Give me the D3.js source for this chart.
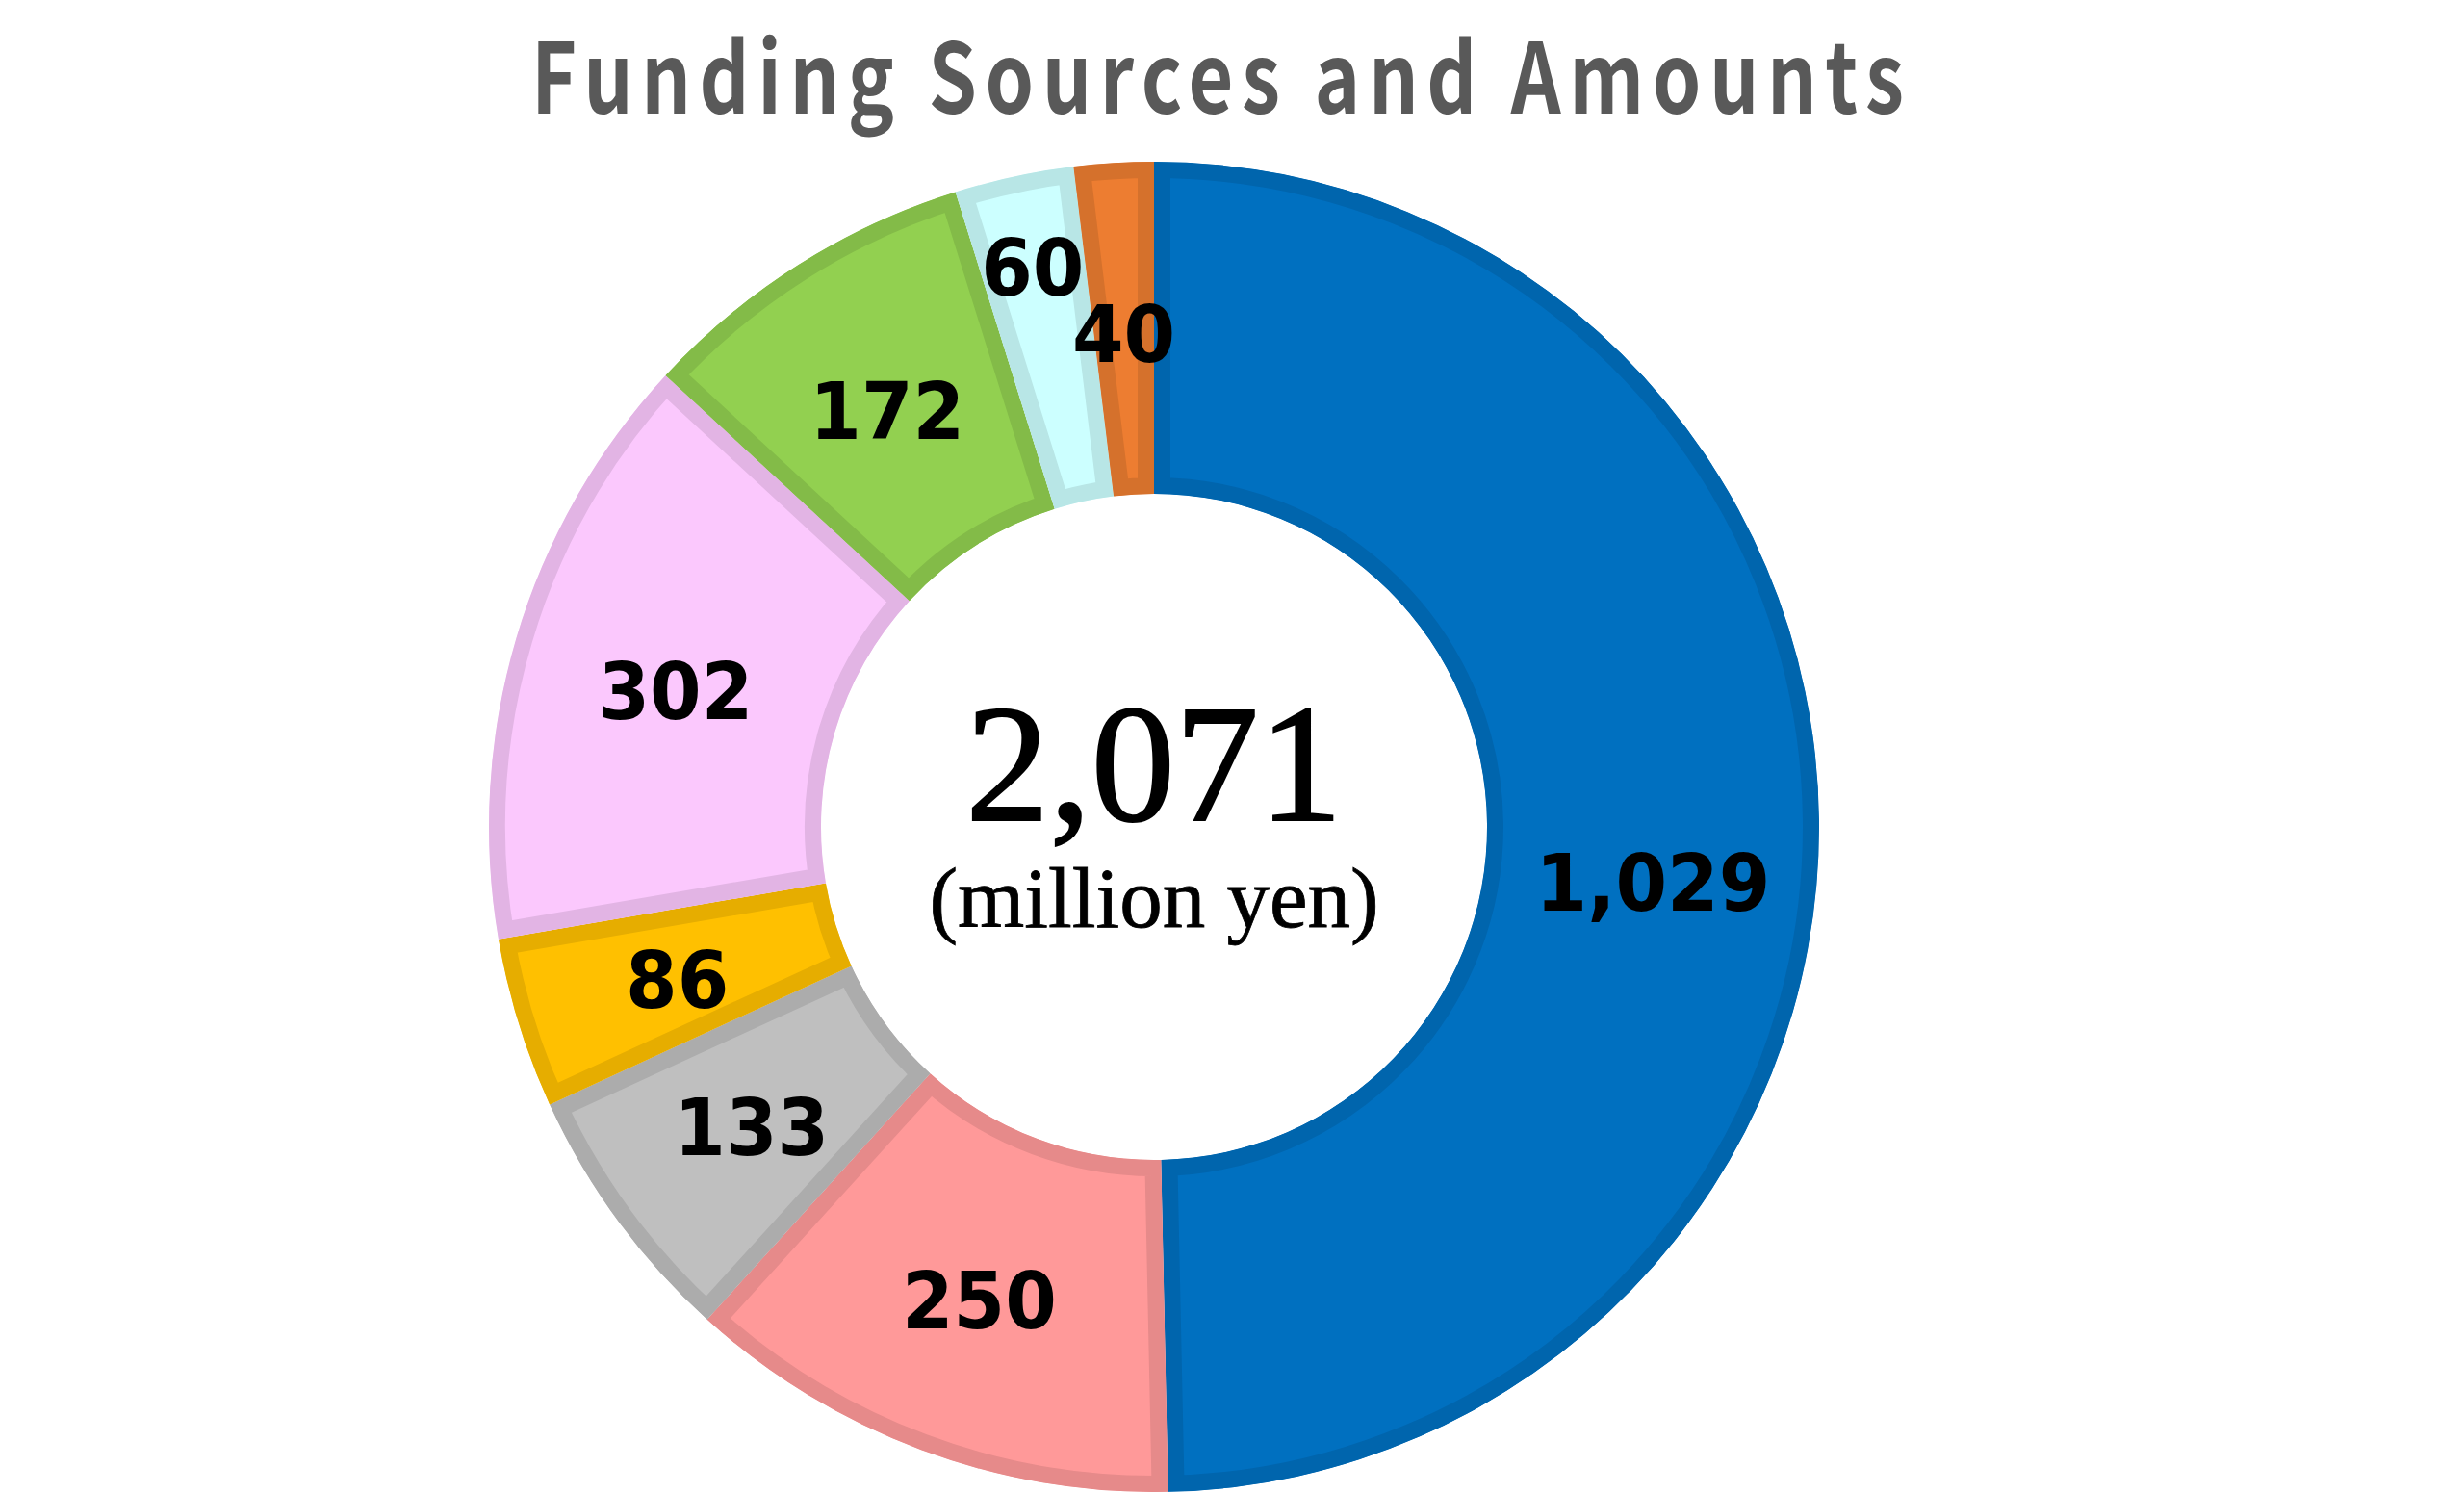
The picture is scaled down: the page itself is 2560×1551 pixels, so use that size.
<!DOCTYPE html>
<html>
<head>
<meta charset="utf-8">
<script src="https://cdn.jsdelivr.net/npm/d3@7"></script>
<style>
  html, body { margin: 0; padding: 0; background: #ffffff; }
  svg { display: block; }
</style>
</head>
<body>
<svg id="chart" width="2560" height="1551"></svg>
<script>
// ---- data ----
const categories = ["A", "B", "C", "D", "E", "F", "G", "H"];
const values = [1029, 250, 133, 86, 302, 172, 60, 40];
const valueLabels = ["1,029", "250", "133", "86", "302", "172", "60", "40"];
const colors = ["#0070C0", "#FF9999", "#BFBFBF", "#FFC000", "#FBC8FD", "#92D050", "#CCFFFF", "#ED7D31"];
const titleText = "Funding Sources and Amounts";
const totalText = "2,071";
const unitText = "(million yen)";

// ---- layout ----
const W = 2560, H = 1551;
const cx = 1199, cy = 859;
const outerR = 691, innerR = 346;
const borderW = 17;
// manual label nudges (dx, dy in px) as in the original chart
const labelNudge = [[0, 58], [0, 0], [0, 0], [0, 0], [0, 0], [0, 0], [-17, -80], [0, 0]];

const svg = d3.select("#chart");

const data = categories.map((c, i) => ({ cat: c, value: values[i], label: valueLabels[i], color: colors[i], i }));

const pie = d3.pie().sort(null).value(d => d.value).startAngle(0).endAngle(2 * Math.PI);
const arc = d3.arc().innerRadius(innerR).outerRadius(outerR);
const arcs = pie(data);

function darker(hex) {
  const c = d3.rgb(hex);
  return d3.rgb(c.r * 0.9, c.g * 0.9, c.b * 0.9).formatHex();
}

const g = svg.append("g").attr("transform", `translate(${cx},${cy})`);
const defs = svg.append("defs");

arcs.forEach((a, i) => {
  defs.append("clipPath").attr("id", "clip" + i)
    .append("path").attr("d", arc(a));
});

g.selectAll("path.slice")
  .data(arcs)
  .join("path")
  .attr("class", "slice")
  .attr("d", arc)
  .attr("fill", d => d.data.color)
  .attr("stroke", d => darker(d.data.color))
  .attr("stroke-width", borderW * 2)
  .attr("stroke-linejoin", "miter")
  .attr("clip-path", (d, i) => `url(#clip${i})`);

// value labels
const labelSize = 82;
g.selectAll("text.val")
  .data(arcs)
  .join("text")
  .attr("class", "val")
  .attr("transform", (d, i) => {
    const x = arc.centroid(d)[0] + labelNudge[i][0];
    const y = arc.centroid(d)[1] + 5 + labelNudge[i][1] + labelSize * 0.729 / 2;
    return `translate(${x},${y}) scale(0.94,1)`;
  })
  .attr("text-anchor", "middle")
  .attr("font-family", "'DejaVu Sans', sans-serif")
  .attr("font-weight", "bold")
  .attr("font-size", labelSize)
  .attr("fill", "#000000")
  .text(d => d.data.label);

// center text
g.append("text")
  .attr("x", 0).attr("y", 852 - cy)
  .attr("text-anchor", "middle")
  .attr("font-family", "'Liberation Serif', 'Times New Roman', serif")
  .attr("font-size", 174)
  .attr("fill", "#000000")
  .attr("stroke", "#000000")
  .attr("stroke-width", 2)
  .text(totalText);

g.append("text")
  .attr("x", 0).attr("y", 963 - cy)
  .attr("text-anchor", "middle")
  .attr("font-family", "'Liberation Serif', 'Times New Roman', serif")
  .attr("font-size", 89)
  .attr("fill", "#000000")
  .attr("stroke", "#000000")
  .attr("stroke-width", 0.8)
  .text(unitText);

// title
const titleScale = 0.8;
svg.append("g")
  .attr("transform", `translate(552,118) scale(${titleScale},1)`)
  .append("text")
  .attr("x", 0).attr("y", 0)
  .attr("font-family", "'Noto Sans CJK JP', 'Noto Sans', sans-serif")
  .attr("font-weight", "bold")
  .attr("font-size", 101)
  .attr("fill", "#595959")
  .attr("textLength", 1426 / titleScale)
  .attr("lengthAdjust", "spacing")
  .text(titleText);
</script>
</body>
</html>
